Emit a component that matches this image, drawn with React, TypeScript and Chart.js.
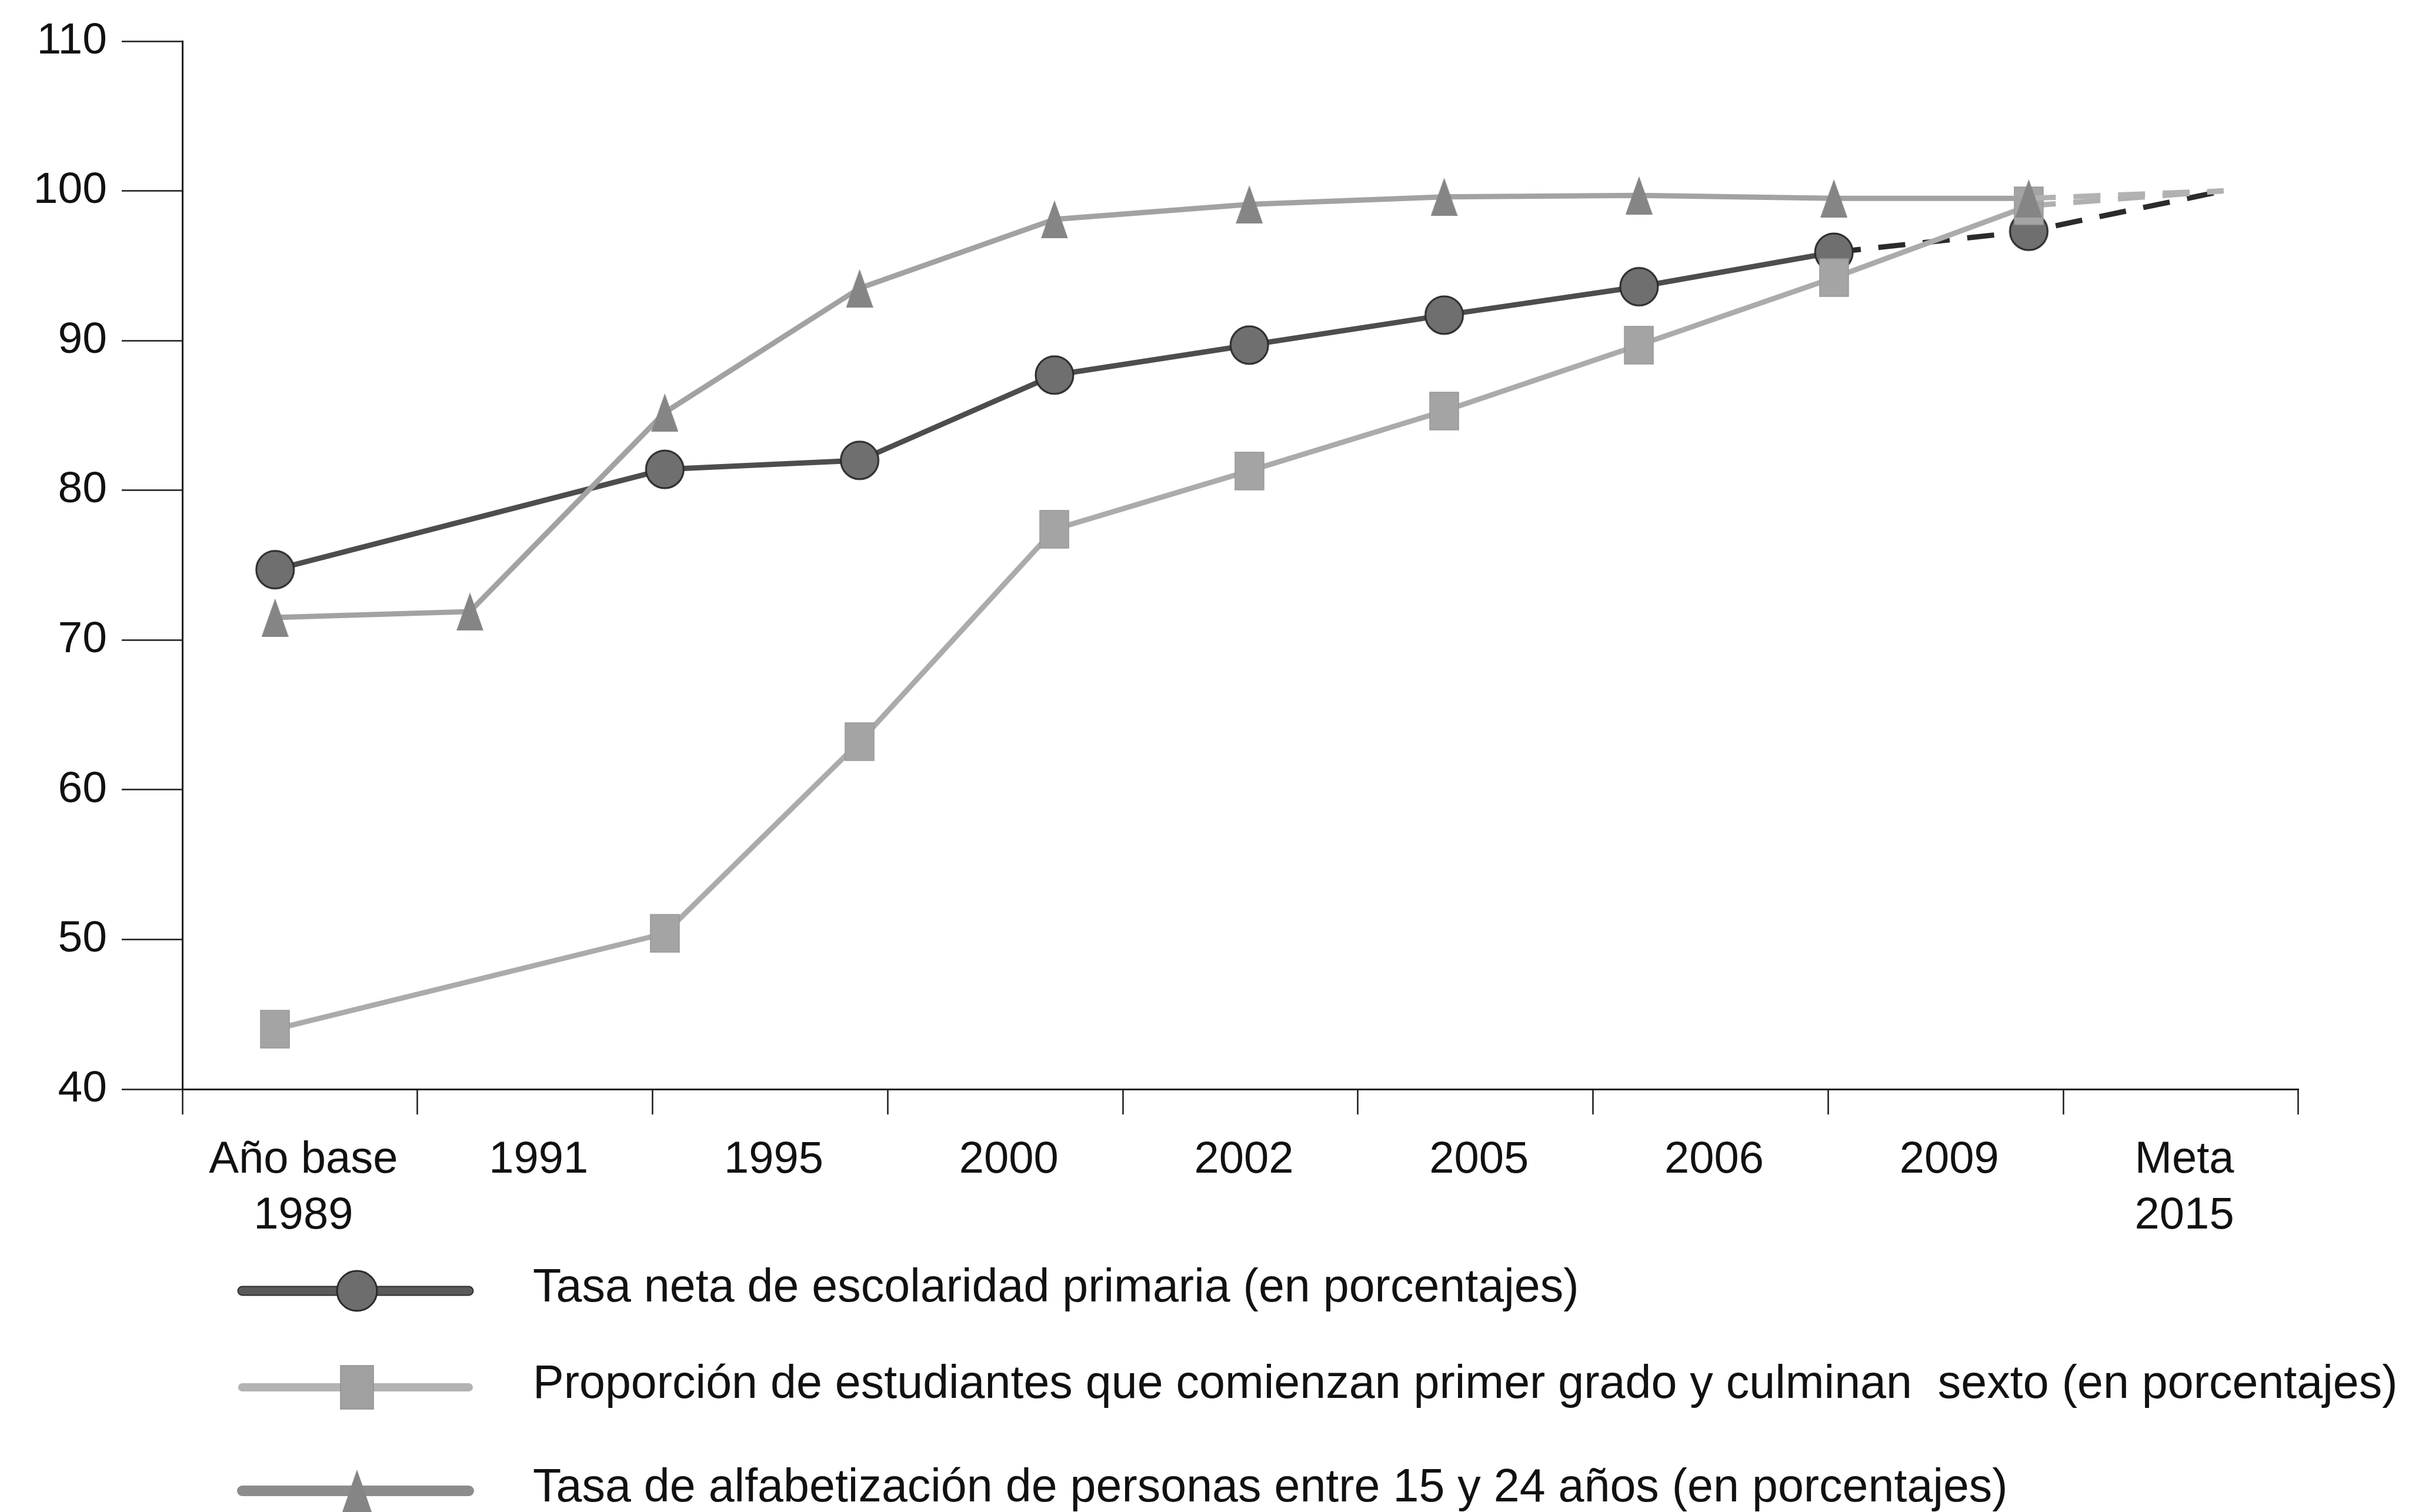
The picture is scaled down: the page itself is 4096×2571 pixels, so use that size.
import React, { useEffect, useRef } from 'react';
import { Chart, registerables } from 'chart.js';

Chart.register(...registerables);

// ---- data ----
const categoryLabels: (string | string[])[] = [
  ['Año base', '1989'], '1991', '1995', '2000', '2002', '2005', '2006', '2009', ['Meta', '2015'],
];
const pointSlots = [0, 1, 2, 3, 4, 5, 6, 7, 8, 9, 10];
const enrolmentValues = [74.7, null, 81.4, 82.0, 87.7, 89.7, 91.7, 93.6, 95.9, 97.3, 100];
const completionValues = [44.0, null, 50.4, 63.2, 77.4, 81.3, 85.3, 89.7, 94.2, 99.0, 100];
const literacyValues = [71.5, 71.9, 85.2, 93.5, 98.1, 99.1, 99.6, 99.7, 99.5, 99.5, 100];
const seriesNames = [
  'Tasa neta de escolaridad primaria (en porcentajes)',
  'Proporción de estudiantes que comienzan primer grado y culminan  sexto (en porcentajes)',
  'Tasa de alfabetización de personas entre 15 y 24 años (en porcentajes)',
];
const dashFromSlot = [8, 9, 9];
const yMin = 40;
const yMax = 110;
const yStep = 10;

const FONT = '"Liberation Sans", Arial, Helvetica, sans-serif';

function makeCircle(d: number, fill: string, stroke: string, lw: number) {
  const c = document.createElement('canvas');
  const s = Math.ceil(d + lw * 2);
  c.width = s; c.height = s;
  const g = c.getContext('2d')!;
  g.beginPath();
  g.arc(s / 2, s / 2, d / 2, 0, Math.PI * 2);
  g.fillStyle = fill; g.fill();
  g.lineWidth = lw; g.strokeStyle = stroke; g.stroke();
  return c;
}
function makeRect(w: number, h: number, fill: string, stroke: string) {
  const c = document.createElement('canvas');
  c.width = w + 2; c.height = h + 2;
  const g = c.getContext('2d')!;
  g.fillStyle = fill; g.fillRect(1, 1, w, h);
  g.strokeStyle = stroke; g.lineWidth = 1.5; g.strokeRect(1, 1, w, h);
  return c;
}
function makeTriangle(w: number, h: number, fill: string) {
  const c = document.createElement('canvas');
  c.width = w; c.height = h;
  const g = c.getContext('2d')!;
  g.beginPath();
  g.moveTo(w / 2, 0); g.lineTo(w, h); g.lineTo(0, h); g.closePath();
  g.fillStyle = fill; g.fill();
  return c;
}

export default function App() {
  const ref = useRef<HTMLCanvasElement | null>(null);

  useEffect(() => {
    const canvas = ref.current;
    if (!canvas) return;

    const circleM = makeCircle(64, '#6f6f6f', '#2a2a2a', 3);
    const rectM = makeRect(49, 64, '#a4a4a4', '#969696');
    const triM = makeTriangle(46, 65, '#858585');
    const circleL = makeCircle(68, '#6d6d6d', '#2a2a2a', 3);
    const rectL = makeRect(56, 74, '#a0a0a0', '#909090');
    const triL = makeTriangle(50, 72, '#858585');

    const toPts = (vals: (number | null)[]) => pointSlots.map((s, i) => ({ x: s, y: vals[i] }));
    const lastSlot = pointSlots[pointSlots.length - 1];

    const mk = (label: string, vals: (number | null)[], color: string, dashColor: string, marker: HTMLCanvasElement, dashFrom: number) => ({
      label,
      data: toPts(vals),
      xAxisID: 'xp',
      yAxisID: 'y',
      borderColor: color,
      borderWidth: 9,
      pointStyle: marker,
      pointRadius: (c: any) => (c.raw && c.raw.x === lastSlot ? 0 : 30),
      pointHoverRadius: 0,
      spanGaps: true,
      tension: 0,
      fill: false,
      segment: {
        borderDash: (c: any) => (pointSlots[c.p0DataIndex] >= dashFrom ? [46, 30] : undefined),
        borderColor: (c: any) => (pointSlots[c.p0DataIndex] >= dashFrom ? dashColor : undefined),
      },
    });

    const legendRows = [
      { color: '#5a5a5a', edge: '#2e2e2e', marker: circleL, lw: 13 },
      { color: '#b3b3b3', edge: null, marker: rectL, lw: 14 },
      { color: '#8c8c8c', edge: null, marker: triL, lw: 18 },
    ];
    const legendY = [2195, 2359, 2535];

    const legendPlugin = {
      id: 'customLegend',
      afterDraw(chart: any) {
        const ctx = chart.ctx as CanvasRenderingContext2D;
        ctx.save();
        legendRows.forEach((row, i) => {
          const y = legendY[i];
          ctx.lineCap = 'round';
          if (row.edge) {
            ctx.strokeStyle = row.edge; ctx.lineWidth = row.lw + 4;
            ctx.beginPath(); ctx.moveTo(412, y); ctx.lineTo(797, y); ctx.stroke();
          }
          ctx.strokeStyle = row.color; ctx.lineWidth = row.lw;
          ctx.beginPath(); ctx.moveTo(412, y); ctx.lineTo(797, y); ctx.stroke();
          ctx.drawImage(row.marker, 607 - row.marker.width / 2, y - row.marker.height / 2);
          ctx.fillStyle = '#111';
          ctx.font = `79px ${FONT}`;
          ctx.textBaseline = 'alphabetic';
          ctx.textAlign = 'left';
          ctx.fillText(seriesNames[i], 906, y + 18);
        });
        ctx.restore();
      },
    };

    const bgPlugin = {
      id: 'bg',
      beforeDraw(chart: any) {
        const ctx = chart.ctx;
        ctx.save();
        ctx.fillStyle = '#ffffff';
        ctx.fillRect(0, 0, chart.width, chart.height);
        ctx.restore();
      },
    };

    const chart = new Chart(canvas, {
      type: 'line',
      data: {
        labels: categoryLabels as any,
        datasets: [
          mk(seriesNames[2], literacyValues, '#a2a2a2', '#b2b2b2', triM, dashFromSlot[2]),
          mk(seriesNames[1], completionValues, '#ababab', '#b0b0b0', rectM, dashFromSlot[1]),
          mk(seriesNames[0], enrolmentValues, '#4d4d4d', '#2b2b2b', circleM, dashFromSlot[0]),
        ] as any,
      },
      options: {
        animation: false,
        responsive: false,
        maintainAspectRatio: false,
        events: [],
        layout: { padding: { top: 62, right: 188, left: 0, bottom: 0 } },
        plugins: { legend: { display: false }, tooltip: { enabled: false } },
        scales: {
          x: {
            type: 'category',
            position: 'bottom',
            offset: true,
            grid: { offset: true, drawOnChartArea: false, drawTicks: true, tickLength: 43, tickWidth: 2.5, tickColor: '#1a1a1a' },
            border: { display: true, color: '#1a1a1a', width: 3 },
            ticks: { color: '#111', font: { family: FONT, size: 76, lineHeight: 1.25 }, padding: 31, labelOffset: 6, maxRotation: 0, minRotation: 0, autoSkip: false },
            afterFit: (s: any) => { s.height = 719; },
          },
          xp: { type: 'linear', position: 'bottom', display: false, min: -0.476, max: 10.384 },
          y: {
            type: 'linear',
            position: 'left',
            min: yMin,
            max: yMax,
            ticks: { stepSize: yStep, color: '#111', font: { family: FONT, size: 75 }, padding: 25 },
            grid: { drawOnChartArea: false, drawTicks: true, tickLength: 103, tickWidth: 2.5, tickColor: '#1a1a1a' },
            border: { display: true, color: '#1a1a1a', width: 3 },
            afterFit: (s: any) => { s.width = 310; },
          },
        },
      } as any,
      plugins: [bgPlugin, legendPlugin],
    });

    return () => chart.destroy();
  }, []);

  return (
    <div style={{ position: 'fixed', left: 0, top: 0, width: 4096, height: 2571, background: '#fff' }}>
      <canvas ref={ref} width={4096} height={2571} style={{ width: 4096, height: 2571, display: 'block' }} />
    </div>
  );
}
